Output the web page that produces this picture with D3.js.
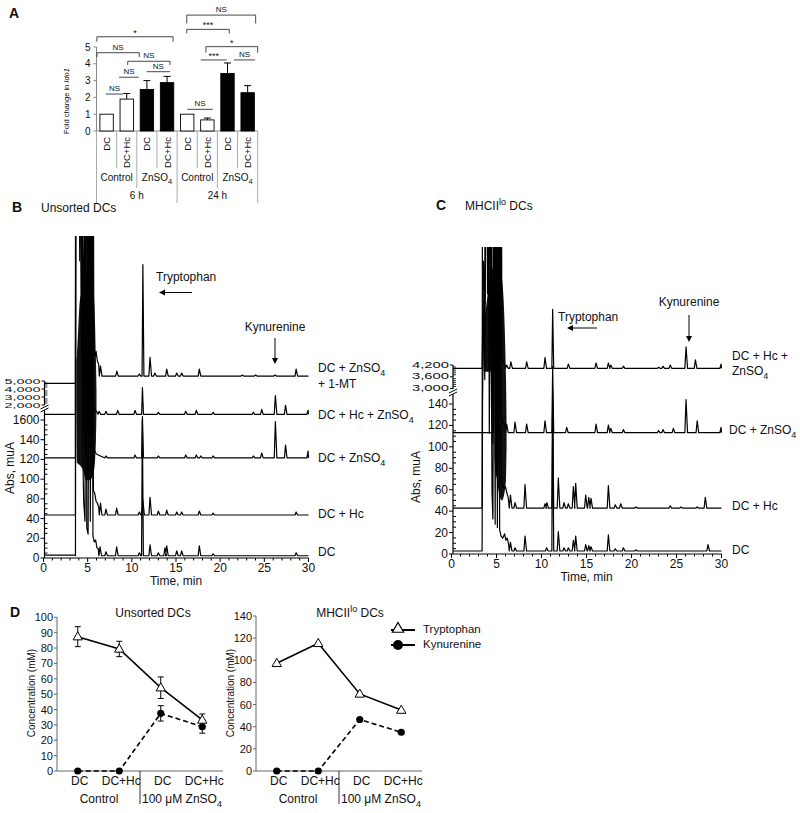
<!DOCTYPE html>
<html><head><meta charset="utf-8">
<script src="https://cdn.jsdelivr.net/npm/d3@7"></script>
<style>body{margin:0;background:#fff} svg{display:block} text{font-family:"Liberation Sans",Arial,Helvetica,sans-serif;fill:#111}</style>
</head><body><svg id="c" width="800" height="813"></svg>
<script>
// ================= DATA =================
// Panel A
const aCategories = ["DC","DC+Hc","DC","DC+Hc","DC","DC+Hc","DC","DC+Hc"];
const aTreatments = ["Control","ZnSO4","Control","ZnSO4"];
const aTimes = ["6 h","24 h"];
const aValues = [1.0, 1.9, 2.47, 2.88, 1.0, 0.66, 3.42, 2.28];
const aErrors = [0, 0.33, 0.53, 0.37, 0, 0.11, 0.63, 0.42];
const aZinc = [false,false,true,true,false,false,true,true];
const aTicks = [0,1,2,3,4,5];
// [fromSlot, toSlot, level, drop, label]
const aSig = [
  [0.02, 3.8, 5.61, 0.3, "*"],
  [0.02, 2.12, 4.66, 0.26, "NS"],
  [1.55, 3.65, 4.15, 0.22, "NS"],
  [1.12, 2.1, 3.2, 0, "NS"],
  [2.49, 3.65, 3.53, 0, "NS"],
  [0.47, 1.32, 2.2, 0, "NS"],
  [4.48, 7.9, 6.9, 0.5, "NS"],
  [4.48, 6.59, 6.05, 0.24, "***"],
  [5.43, 8.0, 5.02, 0.36, "*"],
  [5.17, 6.46, 4.23, 0, "***"],
  [6.82, 7.87, 4.23, 0, "NS"],
  [4.51, 5.77, 1.29, 0, "NS"]
];

// Chromatograms shared
const timeTicks = [0,5,10,15,20,25,30];
const bYTickValues = [0,20,40,60,80,100,120,140];
const bYTickLabels = ["0","20","40","80","100","120","140","1600"];
const bYUpperTicks = [2000,3000,4000,5000];
const cYTickValues = [0,20,40,60,80,100,120,140];
const cYTickLabels = ["0","20","40","60","80","100","120","140"];
const cYUpperTicks = [3000,3600,4200];

// Saturated solvent-front envelopes: [t, low, high]
const bMass = [[3.72,150,200],[3.79,97,206],[4.13,94,262],[4.47,89,272],[4.81,79,282],[5.26,79,277],[5.72,89,262],[5.94,120,201],[6.0,150,170]];
const cMass = [[3.55,180,200],[3.61,170,209],[3.94,170,237],[4.5,170,265],[4.83,170,270],[4.94,78,274],[5.61,50,256],[6.06,69,162],[6.12,100,120]];

// Panel B traces: [t, height above baseline]
const bDC_levels = [3, 2.3];
const bDC_inj = [[3.62,0],[3.64,400],[4.3,400],[4.4,130],[4.55,55],[4.7,35],[4.8,400],[4.9,28],[5.05,22],[5.2,400],[5.3,35],[5.5,400],[5.6,20],[5.75,14],[5.9,16],[6.05,8],[6.2,7]];
const bDC_peaks = [[6.4,9],[7.07,4],[8.28,9],[10.85,3],[11.19,138,0.09],[12.06,11],[13.0,3],[13.75,8],[13.95,10],[15.08,5],[15.64,5],[17.64,10],[19.2,2],[28.6,3]];
const bDCHc_levels = [43.6, 43.6];
const bDCHc_inj = [[3.62,0],[3.64,400],[4.05,320],[4.15,400],[4.3,160],[4.45,240],[4.6,70],[4.75,400],[4.88,50],[5.05,40],[5.25,400],[5.35,45],[5.55,400],[5.65,25],[5.8,22],[5.95,14],[6.1,12],[6.25,8]];
const bDCHc_peaks = [[6.45,12],[7.07,6],[8.28,7],[10.85,3],[11.25,15],[12.06,18],[13.0,4],[13.95,5],[15.08,3],[15.64,3],[17.64,4],[19.2,2],[28.6,3]];
const bDCZn_levels = [101.5, 101.5];
const bDCZn_inj = [[3.62,0],[3.64,400],[4.0,400],[4.1,200],[4.25,330],[4.4,120],[4.6,60],[4.7,400],[4.85,40],[5.0,25],[5.15,400],[5.25,20],[5.45,400],[5.55,15],[5.7,10],[5.85,6],[6.0,4],[6.2,3]];
const bDCZn_peaks = [[7.07,2],[10.36,3],[11.2,42,0.09],[13.0,2],[16.1,3],[17.3,3],[17.8,2],[19.2,2],[23.75,2],[24.7,5],[26.25,37],[27.4,13],[29.95,7]];
const bDCHcZn_levels = [145.8, 145.8];
const bDCHcZn_inj = [[3.62,0],[3.64,400],[4.2,400],[4.3,90],[4.45,200],[4.6,50],[4.7,400],[4.8,30],[5.0,20],[5.1,400],[5.2,15],[5.4,400],[5.5,12],[5.65,8],[5.8,5],[6.0,3]];
const bDCHcZn_peaks = [[6.3,3],[7.07,3],[8.4,4],[10.36,4],[11.2,27,0.09],[13.0,2],[16.1,3],[17.3,4],[19.2,2],[23.75,2],[24.7,5],[26.25,19],[27.4,9],[29.95,4]];
const bMT_levels = [177.2, 184.6];
const bMT_inj = [[3.62,0],[3.64,400],[4.35,400],[4.45,150],[4.6,250],[4.75,90],[4.9,400],[5.0,70],[5.2,50],[5.35,400],[5.45,60],[5.6,400],[5.7,30],[5.85,20],[5.95,25],[6.1,15],[6.25,12]];
const bMT_peaks = [[6.45,10],[8.3,5],[10.85,2],[11.25,113,0.09],[12.06,19],[12.6,3],[13.95,7],[15.08,3],[15.64,3],[17.64,7],[22.5,1],[24,1],[26.2,1],[28.6,7]];

// Panel C traces
const cDC_levels = [2.8, 2.8];
const cDC_inj = [[3.4,0],[3.45,140],[3.6,240],[3.7,160],[3.85,400],[4.1,400],[4.2,110],[4.35,300],[4.5,55],[4.6,30],[4.75,400],[4.85,25],[5.0,400],[5.1,22],[5.25,400],[5.35,20],[5.5,14],[5.7,12],[5.9,16],[6.05,10],[6.2,12],[6.35,6]];
const cDC_peaks = [[6.55,8],[7.06,3],[8.17,14],[10.57,3],[11.24,150,0.09],[11.87,18],[12.5,3],[12.98,3],[13.54,10],[13.8,14],[14.91,6],[15.25,5],[15.5,4],[17.43,15],[18.2,2],[19.1,3],[20.5,1],[28.5,6]];
const cDCHc_levels = [42.9, 42.9];
const cDCHc_inj = [[3.4,0],[3.45,400],[3.9,400],[4.0,200],[4.15,400],[4.3,150],[4.45,260],[4.6,60],[4.7,400],[4.85,45],[5.0,30],[5.15,400],[5.3,35],[5.45,400],[5.55,25],[5.7,22],[5.85,18],[6.0,20],[6.15,14],[6.3,10]];
const cDCHc_peaks = [[6.55,12],[7.06,5],[8.17,22],[10.39,4],[10.6,5],[11.24,100,0.09],[11.87,28],[12.5,5],[12.98,4],[13.54,20],[13.8,23],[14.91,12],[15.25,10],[15.5,9],[17.43,21],[18.2,3],[18.8,4],[20.5,1],[24.3,2],[25.5,1],[27.3,1],[28.2,10]];
const cDCZn_levels = [113.2, 113.2];
const cDCZn_inj = [[4.65,0],[4.7,400],[4.9,60],[5.0,400],[5.1,40],[5.2,400],[5.3,25],[5.45,400],[5.55,15],[5.7,10],[5.85,8],[6.0,6]];
const cDCZn_peaks = [[6.13,8],[7.06,10],[8.35,8],[10.39,11],[11.24,62,0.09],[12.8,5],[16.06,8],[17.43,7],[17.7,4],[19.1,3],[23.0,2],[23.5,3],[24.65,4],[26.06,31],[27.3,11],[29.95,5]];
const cDCHcZn_levels = [173.3, 173.3];
const cDCHcZn_inj = [[3.4,0],[3.45,30],[3.55,100],[3.7,60],[3.8,400],[4.0,400],[4.1,70],[4.25,200],[4.4,50],[4.55,400],[4.7,30],[4.85,400],[4.95,20],[5.1,400],[5.2,15],[5.35,10],[5.5,400],[5.6,8],[5.75,6],[5.9,4]];
const cDCHcZn_peaks = [[6.13,3],[6.6,6],[8.35,6],[10.39,10],[11.24,55,0.09],[12.98,4],[16.06,5],[17.43,5],[17.7,3],[19.1,2],[23.0,1],[23.5,2],[24.3,3],[26.06,20],[27.1,8],[29.95,4]];

// Panel D
const dCategories = ["DC","DC+Hc","DC","DC+Hc"];
const dGroups = ["Control","100 μM ZnSO4"];
const dUnsortedTrp = [87.4, 79.4, 54.2, 33.2];
const dUnsortedTrpErr = [6.5, 5.0, 7.0, 3.9];
const dUnsortedKyn = [0, 0, 37.5, 28.8];
const dUnsortedKynErr = [0, 0, 5.0, 4.2];
const dMhcTrp = [97.3, 115.3, 69.6, 55];
const dMhcKyn = [0, 0, 46.5, 35];
const dUnsortedTicks = [0,10,20,30,40,50,60,70,80,90,100];
const dMhcTicks = [0,20,40,60,80,100,120,140];

// ================= DRAW =================
const svg = d3.select("#c");
svg.append("rect").attr("width",800).attr("height",813).attr("fill","#fff");

function rich(g, x, y, parts, size, anchor) {
  const t = g.append("text").attr("x",x).attr("y",y).attr("font-size",size).attr("text-anchor",anchor||"start");
  parts.forEach(p => {
    const s = t.append("tspan").text(p[0]);
    if (p[1]==="sub") s.attr("font-size",size*0.75).attr("dy",size*0.3);
    else if (p[1]==="sup") s.attr("font-size",size*0.75).attr("dy",-size*0.4);
    else if (p[1]==="backup") s.attr("dy",size*0.4);
    if (p[2]) s.attr("font-style",p[2]);
  });
  return t;
}
function panelLabel(x,y,s){ svg.append("text").attr("x",x).attr("y",y).attr("font-size",14).attr("font-weight","bold").text(s); }

// ---------- Panel A ----------
(function(){
  const g = svg.append("g");
  const x = d3.scaleLinear().domain([0,8]).range([96.5,257.7]);
  const y = d3.scaleLinear().domain([0,5]).range([131,47]);
  panelLabel(9,18,"A");
  g.append("line").attr("x1",x(0)).attr("x2",x(0)).attr("y1",y(0)).attr("y2",y(5)).attr("stroke","#888");
  g.append("line").attr("x1",x(0)).attr("x2",x(8)).attr("y1",y(0)).attr("y2",y(0)).attr("stroke","#888");
  aTicks.forEach(v=>{
    g.append("line").attr("x1",x(0)-3).attr("x2",x(0)).attr("y1",y(v)).attr("y2",y(v)).attr("stroke","#888");
    g.append("text").attr("x",x(0)-6).attr("y",y(v)+3.5).attr("text-anchor","end").attr("font-size",10).text(v);
  });
  rich(g,0,0,[["Fold change in "],["Ido1","","italic"]],7.5,"middle").attr("transform","translate(69,101) rotate(-90)");
  aValues.forEach((v,i)=>{
    const bx = x(i)+3.4, bw = 13.4;
    g.append("rect").attr("x",bx).attr("y",y(v)).attr("width",bw).attr("height",y(0)-y(v))
      .attr("fill",aZinc[i]?"#000":"#fff").attr("stroke","#000").attr("stroke-width",0.9);
    if (aErrors[i]>0){
      const cx = bx+bw/2;
      g.append("line").attr("x1",cx).attr("x2",cx).attr("y1",y(v)).attr("y2",y(v+aErrors[i])).attr("stroke","#000");
      g.append("line").attr("x1",cx-3.5).attr("x2",cx+3.5).attr("y1",y(v+aErrors[i])).attr("y2",y(v+aErrors[i])).attr("stroke","#000");
    }
    g.append("text").attr("transform",`translate(${x(i+0.5)+3.5},${y(0)+6}) rotate(-90)`).attr("text-anchor","end").attr("font-size",9.5).text(aCategories[i]);
  });
  d3.range(0,9).forEach(k=>{
    const depth = (k%4===0)?203:(k%2===0?188:168);
    g.append("line").attr("x1",x(k)).attr("x2",x(k)).attr("y1",y(0)).attr("y2",depth).attr("stroke","#aaa");
  });
  aTreatments.forEach((t,j)=>{
    const cx = x(j*2+1);
    if (t==="ZnSO4") rich(g,cx,181,[["ZnSO"],["4","sub"]],10,"middle");
    else g.append("text").attr("x",cx).attr("y",181).attr("text-anchor","middle").attr("font-size",10).text(t);
  });
  aTimes.forEach((t,j)=>{
    g.append("text").attr("x",x(j*4+2)).attr("y",199).attr("text-anchor","middle").attr("font-size",10).text(t);
  });
  aSig.forEach(s=>{
    const x1=x(s[0]), x2=x(s[1]), yy=y(s[2]);
    if (s[3]>0){
      g.append("path").attr("d",`M${x1},${y(s[2]-s[3])}V${yy}H${x2}V${y(s[2]-s[3])}`).attr("fill","none").attr("stroke","#333").attr("stroke-width",0.9);
    } else {
      g.append("line").attr("x1",x1).attr("x2",x2).attr("y1",yy).attr("y2",yy).attr("stroke","#333").attr("stroke-width",0.9);
    }
    const star = s[4].startsWith("*");
    g.append("text").attr("x",(x1+x2)/2).attr("y",yy-(star?1:3)).attr("text-anchor","middle").attr("font-size",star?9:8).text(s[4]);
  });
})();

// ---------- Chromatogram builder ----------
function tracePts(levels, inj, peaks, tStart){
  const pre = levels[0], base = levels[1];
  const pts = [[tStart, pre], [inj[0][0], pre]];
  inj.forEach(p => pts.push([p[0], base + p[1]]));
  peaks.forEach(p => {
    const hw = p[2] || 0.13;
    pts.push([p[0]-hw, base]); pts.push([p[0], base + p[1]]); pts.push([Math.min(30, p[0]+hw*1.3), base]);
  });
  if (pts[pts.length-1][0] < 30) pts.push([30, base]);
  return pts;
}

function chromatogram(opt){
  const g = svg.append("g");
  const x = d3.scaleLinear().domain([0,30]).range(opt.xRange);
  const y = d3.scaleLinear().domain([0,140]).range(opt.yRange);
  const yU = d3.scaleLinear().domain(opt.upDomain).range(opt.upRange);
  const ax = opt.axisX, y0 = y(0);
  const clipId = "clip"+opt.id;
  svg.append("clipPath").attr("id",clipId).append("rect").attr("x",ax).attr("y",opt.clipTop).attr("width",opt.xRange[1]+6-ax).attr("height",y0-opt.clipTop);
  const tStart = x.invert(ax);
  const line = d3.line().x(d=>x(d[0])).y(d=>y(d[1]));
  const tg = g.append("g").attr("clip-path",`url(#${clipId})`);
  const area = d3.area().x(d=>x(d[0])).y0(d=>y(d[1])).y1(d=>y(d[2])).curve(d3.curveMonotoneX);
  tg.append("path").attr("d",area(opt.mass)).attr("fill","#111");
  opt.traces.forEach(tr=>{
    tg.append("path").attr("d",line(tracePts(tr[0],tr[1],tr[2],tStart))).attr("fill","none").attr("stroke","#000").attr("stroke-width",1.2).attr("stroke-linejoin","round");
  });
  g.append("line").attr("x1",ax).attr("x2",x(30)).attr("y1",y0).attr("y2",y0).attr("stroke","#000").attr("stroke-width",1.2);
  d3.range(0,31).forEach(t=>{
    const major = t%5===0;
    g.append("line").attr("x1",x(t)).attr("x2",x(t)).attr("y1",y0).attr("y2",y0+(major?4:2.5)).attr("stroke","#000");
  });
  timeTicks.forEach(t=>g.append("text").attr("x",x(t)).attr("y",y0+14).attr("text-anchor","middle").attr("font-size",12).text(t));
  g.append("text").attr("x",(x(0)+x(30))/2).attr("y",y0+27).attr("text-anchor","middle").attr("font-size",12).text("Time, min");
  g.append("line").attr("x1",ax).attr("x2",ax).attr("y1",y0).attr("y2",opt.breakY+2).attr("stroke","#000").attr("stroke-width",1.2);
  g.append("line").attr("x1",ax).attr("x2",ax).attr("y1",opt.breakY-3).attr("y2",opt.upRange[1]).attr("stroke","#000").attr("stroke-width",1.2);
  opt.yTickValues.forEach((v,i)=>{
    g.append("line").attr("x1",ax-4).attr("x2",ax).attr("y1",y(v)).attr("y2",y(v)).attr("stroke","#000");
    g.append("text").attr("x",ax-5).attr("y",y(v)+4).attr("text-anchor","end").attr("font-size",12).text(opt.yTickLabels[i]);
  });
  d3.range(5,140,5).filter(v=>v%20!==0).forEach(v=>{
    g.append("line").attr("x1",ax).attr("x2",ax+3).attr("y1",y(v)).attr("y2",y(v)).attr("stroke","#000");
  });
  opt.upMinor.forEach(v=>g.append("line").attr("x1",ax).attr("x2",ax+3).attr("y1",yU(v)).attr("y2",yU(v)).attr("stroke","#000").attr("stroke-width",0.8));
  opt.upTicks.forEach(v=>{
    g.append("line").attr("x1",ax-3).attr("x2",ax).attr("y1",yU(v)).attr("y2",yU(v)).attr("stroke","#000");
    g.append("text").attr("x",ax-4).attr("y",yU(v)+2.6).attr("text-anchor","end").attr("font-size",opt.upFont)
      .attr("textLength",opt.upLabelLen).attr("lengthAdjust","spacingAndGlyphs").text(d3.format(",")(v));
  });
  [0,3].forEach(d=>g.append("line").attr("x1",ax-4).attr("x2",ax+4).attr("y1",opt.breakY+1+d).attr("y2",opt.breakY-3+d).attr("stroke","#000").attr("stroke-width",1));
  g.append("text").attr("transform",`translate(${opt.yTitleX},${opt.yTitleY}) rotate(-90)`).attr("text-anchor","middle").attr("font-size",12).text("Abs, muA");
  const a = opt.ann;
  g.append("text").attr("x",a.trpX).attr("y",a.trpY).attr("font-size",12).text("Tryptophan");
  g.append("line").attr("x1",a.trpA[0]).attr("x2",a.trpA[1]+4).attr("y1",a.trpA[2]).attr("y2",a.trpA[2]).attr("stroke","#000").attr("stroke-width",1);
  g.append("path").attr("d",`M${a.trpA[1]},${a.trpA[2]}l6,-3v6z`).attr("fill","#000");
  g.append("text").attr("x",a.kynX).attr("y",a.kynY).attr("text-anchor","middle").attr("font-size",12).text("Kynurenine");
  g.append("line").attr("x1",a.kynX).attr("x2",a.kynX).attr("y1",a.kynA[0]).attr("y2",a.kynA[1]-4).attr("stroke","#000").attr("stroke-width",1);
  g.append("path").attr("d",`M${a.kynX},${a.kynA[1]}l-3,-6h6z`).attr("fill","#000");
  opt.labels.forEach(l=>rich(g,l[0],l[1],l[2],12,"start"));
  return g;
}

panelLabel(12,212,"B");
svg.append("text").attr("x",41).attr("y",212).attr("font-size",12).text("Unsorted DCs");
chromatogram({
  id:"B", xRange:[43.5,308.5], yRange:[558,420], axisX:44.5, clipTop:236, mass:bMass,
  upDomain:[2000,5000], upRange:[405,381], upTicks:bYUpperTicks, upMinor:[2250,2500,2750,3250,3500,3750,4250,4500,4750], upLabelLen:36, upFont:7,
  breakY:408, yTickValues:bYTickValues, yTickLabels:bYTickLabels,
  yTitleX:14, yTitleY:468,
  traces:[[bDC_levels,bDC_inj,bDC_peaks],[bDCHc_levels,bDCHc_inj,bDCHc_peaks],[bDCZn_levels,bDCZn_inj,bDCZn_peaks],[bDCHcZn_levels,bDCHcZn_inj,bDCHcZn_peaks],[bMT_levels,bMT_inj,bMT_peaks]],
  ann:{trpX:156,trpY:281,trpA:[192,159,292.5],kynX:275,kynY:331,kynA:[338,364]},
  labels:[[318,372,[["DC + ZnSO"],["4","sub"]]],[318,388,[["+ 1-MT"]]],[318,419,[["DC + Hc + ZnSO"],["4","sub"]]],[318,462,[["DC + ZnSO"],["4","sub"]]],[318,518,[["DC + Hc"]]],[318,556,[["DC"]]]]
});

panelLabel(436,210,"C");
rich(svg,465,210,[["MHCII"],["lo","sup"],[" DCs","backup"]],12,"start");
chromatogram({
  id:"C", xRange:[451.5,721.5], yRange:[554,404], axisX:453, clipTop:247, mass:cMass,
  upDomain:[3000,4200], upRange:[388.5,365], upTicks:cYUpperTicks, upMinor:[3100,3200,3300,3400,3500,3700,3800,3900,4000,4100], upLabelLen:37, upFont:9.5,
  breakY:392, yTickValues:cYTickValues, yTickLabels:cYTickLabels,
  yTitleX:420, yTitleY:477,
  traces:[[cDC_levels,cDC_inj,cDC_peaks],[cDCHc_levels,cDCHc_inj,cDCHc_peaks],[cDCZn_levels,cDCZn_inj,cDCZn_peaks],[cDCHcZn_levels,cDCHcZn_inj,cDCHcZn_peaks]],
  ann:{trpX:558,trpY:321,trpA:[597,567,328],kynX:689,kynY:306,kynA:[315,342]},
  labels:[[732,360,[["DC + Hc +"]]],[732,375,[["ZnSO"],["4","sub"]]],[729,434,[["DC + ZnSO"],["4","sub"]]],[732,510,[["DC + Hc"]]],[732,554,[["DC"]]]]
});

// ---------- Panel D ----------
panelLabel(10,617,"D");
function linePanel(opt){
  const g = svg.append("g");
  const x = d3.scalePoint().domain(d3.range(4)).range([opt.axisX+20.75, opt.axisX+145.25]);
  const y = d3.scaleLinear().domain([0,opt.max]).range([771, opt.topY]);
  const ax = opt.axisX;
  g.append("line").attr("x1",ax).attr("x2",ax).attr("y1",y(0)).attr("y2",y(opt.max)).attr("stroke","#666");
  g.append("line").attr("x1",ax).attr("x2",ax+166).attr("y1",y(0)).attr("y2",y(0)).attr("stroke","#666");
  opt.ticks.forEach(v=>{
    g.append("line").attr("x1",ax-3).attr("x2",ax).attr("y1",y(v)).attr("y2",y(v)).attr("stroke","#666");
    g.append("text").attr("x",ax-4).attr("y",y(v)+4).attr("text-anchor","end").attr("font-size",11).text(v);
  });
  g.append("text").attr("transform",`translate(${opt.titleX},693) rotate(-90)`).attr("text-anchor","middle").attr("font-size",10).text("Concentration (mM)");
  dCategories.forEach((c,i)=>g.append("text").attr("x",x(i)+2).attr("y",785).attr("text-anchor","middle").attr("font-size",12).text(c));
  g.append("line").attr("x1",ax+83).attr("x2",ax+83).attr("y1",771).attr("y2",804).attr("stroke","#333");
  g.append("text").attr("x",ax+42).attr("y",803).attr("text-anchor","middle").attr("font-size",12).text(dGroups[0]);
  rich(g,ax+125,803,[["100 μM ZnSO"],["4","sub"]],12,"middle");
  const ln = d3.line().x((d,i)=>x(i)).y(d=>y(d));
  g.append("path").attr("d",ln(opt.kyn)).attr("fill","none").attr("stroke","#000").attr("stroke-width",1.6).attr("stroke-dasharray","5,3");
  g.append("path").attr("d",ln(opt.trp)).attr("fill","none").attr("stroke","#000").attr("stroke-width",1.6);
  const eb = (vals, errs)=>{ if(!errs) return; vals.forEach((v,i)=>{ if(errs[i]>0){
    const cx=x(i);
    g.append("line").attr("x1",cx).attr("x2",cx).attr("y1",y(v-errs[i])).attr("y2",y(v+errs[i])).attr("stroke","#000");
    [v-errs[i],v+errs[i]].forEach(e=>g.append("line").attr("x1",cx-3).attr("x2",cx+3).attr("y1",y(e)).attr("y2",y(e)).attr("stroke","#000"));
  }});};
  eb(opt.trp,opt.trpErr); eb(opt.kyn,opt.kynErr);
  opt.kyn.forEach((v,i)=>g.append("circle").attr("cx",x(i)).attr("cy",y(v)).attr("r",3.6).attr("fill","#000"));
  const tri = d3.symbol().type(d3.symbolTriangle).size(38);
  opt.trp.forEach((v,i)=>g.append("path").attr("d",tri()).attr("transform",`translate(${x(i)},${y(v)+0.5})`).attr("fill","#fff").attr("stroke","#000").attr("stroke-width",1));
  rich(g,opt.headX,617,opt.head,12,"middle");
}
linePanel({axisX:57, max:100, topY:617.3, ticks:dUnsortedTicks, titleX:35, trp:dUnsortedTrp, trpErr:dUnsortedTrpErr, kyn:dUnsortedKyn, kynErr:dUnsortedKynErr, headX:153, head:[["Unsorted DCs"]]});
linePanel({axisX:256, max:140, topY:616, ticks:dMhcTicks, titleX:234, trp:dMhcTrp, kyn:dMhcKyn, headX:350, head:[["MHCII"],["lo","sup"],[" DCs","backup"]]});

(function(){
  const g = svg.append("g");
  g.append("line").attr("x1",391).attr("x2",415).attr("y1",630).attr("y2",630).attr("stroke","#000").attr("stroke-width",2);
  g.append("path").attr("d",d3.symbol().type(d3.symbolTriangle).size(55)()).attr("transform","translate(398,629)").attr("fill","#fff").attr("stroke","#000").attr("stroke-width",1.2);
  g.append("line").attr("x1",391).attr("x2",415).attr("y1",645).attr("y2",645).attr("stroke","#000").attr("stroke-width",2);
  g.append("circle").attr("cx",398).attr("cy",645).attr("r",5).attr("fill","#000");
  g.append("text").attr("x",423).attr("y",633).attr("font-size",11.5).text("Tryptophan");
  g.append("text").attr("x",423).attr("y",648).attr("font-size",11.5).text("Kynurenine");
})();
</script></body></html>
